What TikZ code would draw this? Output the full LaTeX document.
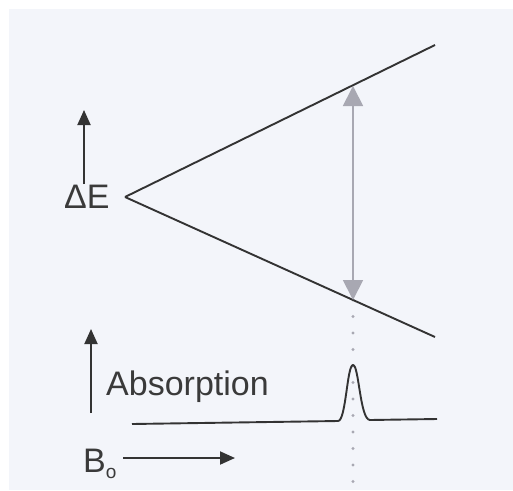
\documentclass[tikz,border=0pt]{standalone}
\usepackage{fontspec}
\setmainfont{Liberation Sans}
\usetikzlibrary{arrows.meta}
\definecolor{bg}{HTML}{F3F5FA}
\definecolor{ink}{HTML}{333333}
\definecolor{tx}{HTML}{3A3A3A}
\definecolor{gr}{HTML}{A8A8B2}
\tikzset{
  lvl/.style={draw=ink, line width=1.9pt},
  axarrow/.style={draw=ink, line width=1.9pt, -{Triangle[length=15pt,width=13pt]}},
  lbl/.style={inner sep=0pt, text=tx, font=\fontsize{34}{34}\selectfont},
  trans/.style={draw=gr, line width=1.8pt, {Triangle[length=20pt,width=20pt]}-{Triangle[length=20pt,width=20pt]}},
  dotline/.style={draw=gr, line width=3.2pt, line cap=round, dash pattern=on 0pt off 16.5pt}
}
\begin{document}
\begin{tikzpicture}[x=1pt,y=-1pt]
\useasboundingbox (0,0) rectangle (513,490);
\fill[white] (0,0) rectangle (513,490);
\fill[bg] (9,9) rectangle (513,490);
% energy levels
\coordinate (apex) at (125,197);
\coordinate (up) at (435,45);
\coordinate (lo) at (435,337);
\coordinate (t1) at (353,86);
\coordinate (t2) at (353,300);
\coordinate (dend) at (353,482);
\draw[dotline] (t2) -- (dend);
\draw[lvl] (apex) -- (up);
\draw[lvl] (apex) -- (lo);
\draw[trans] (t1) -- (t2);
% Delta E
\node[lbl, anchor=base west] (de) at (64,208) {ΔE};
\coordinate (dea) at (84,110);
\draw[axarrow] (84,184) -- (dea);
% absorption
\coordinate (ab0) at (91,413);
\coordinate (ab1) at (91,329);
\draw[axarrow] (ab0) -- (ab1);
\node[lbl, anchor=base west] (abs) at (106,395) {Absorption};
\draw[draw=ink, line width=1.9pt, line join=round]
  (132,424) -- (338,421)
  .. controls (346,421) and (347,365) .. (353,365)
  .. controls (359,365) and (360,420) .. (370,420)
  -- (437,419);
% B0
\node[lbl, anchor=base west] (b0) at (83,472) {B\raisebox{-6pt}{\fontsize{19}{19}\selectfont o}};
\coordinate (bstart) at (123,458);
\coordinate (bend) at (235,458);
\draw[axarrow] (bstart) -- (bend);
\end{tikzpicture}
\end{document}
